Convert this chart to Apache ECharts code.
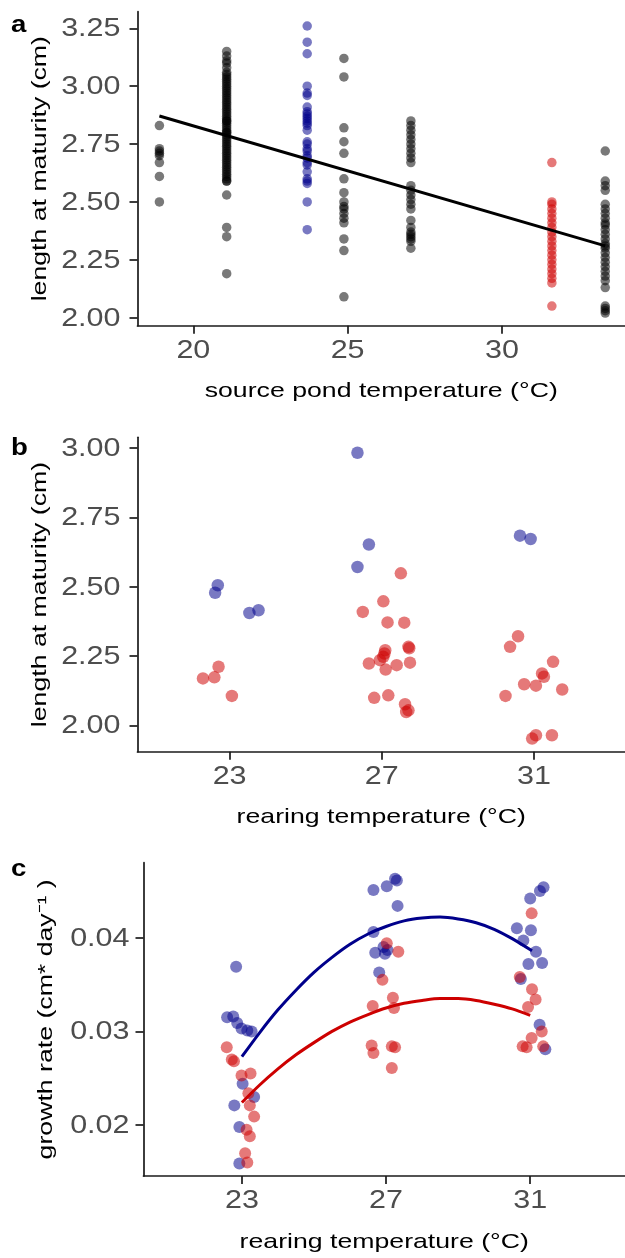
<!DOCTYPE html>
<html><head><meta charset="utf-8">
<script src="https://cdn.jsdelivr.net/npm/echarts@6/dist/echarts.min.js"></script>
<style>html,body{margin:0;padding:0;background:#fff}#c{width:625px;height:1258px}</style>
</head><body><div id="c"></div>
<script>
// ---------- Panel a : length at maturity vs source pond temperature ----------
const aTemps = [18.9, 21.08, 23.69, 24.88, 27.05, 31.62, 33.35];
const aGroup = ['grey', 'grey', 'blue', 'grey', 'grey', 'red', 'grey'];
const aCol1 = [2.83, 2.73, 2.72, 2.71, 2.70, 2.67, 2.61, 2.50];
const aCol2 = [3.15, 3.13, 3.11, 3.10, 3.08, 3.06, 3.05, 3.04, 3.03, 3.02, 3.01, 3.00, 2.99, 2.98, 2.97, 2.96, 2.95, 2.94, 2.93, 2.92, 2.91, 2.90, 2.89, 2.88, 2.87, 2.86, 2.85, 2.85, 2.84, 2.83, 2.82, 2.81, 2.80, 2.80, 2.79, 2.78, 2.77, 2.76, 2.75, 2.74, 2.73, 2.72, 2.71, 2.70, 2.69, 2.68, 2.67, 2.66, 2.65, 2.64, 2.63, 2.62, 2.61, 2.60, 2.59, 2.59, 2.53, 2.39, 2.35, 2.19];
const aCol3 = [3.26, 3.19, 3.14, 3.00, 2.97, 2.96, 2.91, 2.89, 2.88, 2.87, 2.86, 2.85, 2.84, 2.83, 2.81, 2.76, 2.75, 2.73, 2.72, 2.70, 2.69, 2.67, 2.66, 2.63, 2.60, 2.59, 2.58, 2.50, 2.38];
const aCol4 = [3.12, 3.04, 2.82, 2.76, 2.71, 2.60, 2.54, 2.50, 2.48, 2.47, 2.45, 2.43, 2.41, 2.34, 2.29, 2.09];
const aCol5 = [2.85, 2.83, 2.81, 2.79, 2.77, 2.75, 2.73, 2.71, 2.69, 2.67, 2.57, 2.55, 2.53, 2.51, 2.49, 2.47, 2.42, 2.39, 2.37, 2.36, 2.35, 2.34, 2.33, 2.30];
const aCol6 = [2.67, 2.50, 2.49, 2.47, 2.45, 2.43, 2.41, 2.39, 2.37, 2.35, 2.33, 2.31, 2.29, 2.27, 2.25, 2.23, 2.21, 2.19, 2.17, 2.15, 2.05];
const aCol7 = [2.72, 2.59, 2.57, 2.55, 2.49, 2.47, 2.45, 2.43, 2.41, 2.40, 2.38, 2.36, 2.34, 2.32, 2.31, 2.30, 2.28, 2.26, 2.24, 2.22, 2.20, 2.18, 2.16, 2.13, 2.05, 2.04, 2.03, 2.02];
const aCols = [aCol1, aCol2, aCol3, aCol4, aCol5, aCol6, aCol7];
const aFit = [[18.9, 2.871], [33.35, 2.310]];
const aXTicks = [20, 25, 30];
const aYTicks = [2.00, 2.25, 2.50, 2.75, 3.00, 3.25];

// ---------- Panel b : length at maturity vs rearing temperature ----------
const bBlue = [[22.69, 2.505], [22.62, 2.478], [23.52, 2.405], [23.76, 2.415], [26.36, 2.983], [26.66, 2.652], [26.36, 2.571], [30.63, 2.684], [30.91, 2.672]];
const bRed = [[22.71, 2.211], [22.30, 2.169], [22.60, 2.173], [23.06, 2.106],
  [27.50, 2.548], [27.04, 2.447], [26.50, 2.409], [27.15, 2.371], [27.59, 2.370], [27.09, 2.271], [27.07, 2.259], [27.70, 2.283], [27.72, 2.278], [27.04, 2.247], [26.66, 2.223], [26.95, 2.235], [27.39, 2.217], [27.74, 2.226], [27.10, 2.201], [26.80, 2.099], [27.17, 2.108], [27.61, 2.076], [27.64, 2.048], [27.70, 2.054],
  [30.58, 2.321], [30.37, 2.283], [30.25, 2.106], [30.74, 2.148], [31.05, 2.143], [31.21, 2.187], [31.26, 2.175], [31.50, 2.229], [31.74, 2.129], [30.95, 1.952], [31.05, 1.964], [31.47, 1.964]];
const bXTicks = [23, 27, 31];
const bYTicks = [2.00, 2.25, 2.50, 2.75, 3.00];

// ---------- Panel c : growth rate vs rearing temperature ----------
const cBlue = [[22.84, 0.0369], [22.59, 0.0315], [22.76, 0.0316], [22.87, 0.0309], [22.99, 0.0303], [23.15, 0.0301], [23.27, 0.0300], [23.02, 0.0244], [23.34, 0.0230], [22.79, 0.0221], [22.93, 0.0198], [22.93, 0.0159],
  [26.65, 0.0451], [27.02, 0.0455], [27.25, 0.0463], [27.30, 0.0461], [27.32, 0.0434], [26.65, 0.0406], [26.70, 0.0384], [26.93, 0.0390], [26.97, 0.0383], [27.04, 0.0387], [26.81, 0.0363],
  [31.37, 0.0454], [31.27, 0.0450], [31.00, 0.0442], [30.63, 0.0410], [31.02, 0.0408], [30.81, 0.0397], [31.16, 0.0385], [30.95, 0.0372], [31.33, 0.0373], [30.74, 0.0356], [31.26, 0.0307], [31.42, 0.0281]];
const cRed = [[22.58, 0.0283], [22.72, 0.0270], [22.78, 0.0268], [22.99, 0.0253], [23.24, 0.0255], [23.18, 0.0234], [23.22, 0.0221], [23.34, 0.0209], [23.13, 0.0195], [23.22, 0.0188], [23.09, 0.0170], [23.15, 0.0160],
  [27.02, 0.0394], [27.34, 0.0385], [26.90, 0.0355], [26.63, 0.0327], [27.19, 0.0336], [27.22, 0.0325], [26.60, 0.0285], [26.65, 0.0277], [27.16, 0.0284], [27.25, 0.0283], [27.16, 0.0261],
  [31.04, 0.0426], [30.71, 0.0358], [31.05, 0.0345], [31.15, 0.0334], [30.94, 0.0326], [31.32, 0.0300], [31.04, 0.0293], [30.79, 0.0284], [30.90, 0.0283], [31.36, 0.0284]];
const cBlueFit = [[23, 0.0273], [23.5, 0.0299], [24, 0.0323], [24.5, 0.0344], [25, 0.0363], [25.5, 0.0379], [26, 0.0393], [26.5, 0.0404], [27, 0.0412], [27.5, 0.0418], [28, 0.0421], [28.5, 0.0422], [29, 0.0420], [29.5, 0.0416], [30, 0.0409], [30.5, 0.0399], [31.05, 0.0386]];
const cRedFit = [[23, 0.0224], [23.5, 0.0243], [24, 0.0260], [24.5, 0.0275], [25, 0.0288], [25.5, 0.0300], [26, 0.0310], [26.5, 0.0318], [27, 0.0325], [27.5, 0.0330], [28, 0.0333], [28.5, 0.0335], [29, 0.0335], [29.5, 0.0333], [30, 0.0329], [30.5, 0.0324], [31, 0.0317]];
const cXTicks = [23, 27, 31];
const cYTicks = [0.02, 0.03, 0.04];

const labels = ['a', 'b', 'c'];
const xTitles = ['source pond temperature (°C)', 'rearing temperature (°C)', 'rearing temperature (°C)'];
const yTitles = ['length at maturity (cm)', 'length at maturity (cm)', 'growth rate (cm* day⁻¹ )'];

// ---------- styling ----------
const COL = { grey: 'rgba(0,0,0,0.66)', blue: 'rgba(0,0,139,0.66)', red: 'rgba(205,0,0,0.66)' };
const AX = '#1a1a1a';
const FONT = '"Liberation Sans", Arial, sans-serif';

const grids = [
  { left: 137.5, top: 11.7, right: 0, height: 314 },
  { left: 137.5, top: 437.3, right: 0, height: 314.4 },
  { left: 143.5, top: 862.7, right: 0, height: 313.3 }
];
const xr = [[18.19, 33.99], [20.58, 33.39], [20.27, 33.63]];
const yr = [[1.9654, 3.3217], [1.9048, 3.0386], [0.01456, 0.04801]];
const xt = [aXTicks, bXTicks, cXTicks];
const yt = [aYTicks, bYTicks, cYTicks];

function axis(gi, r, ticks) {
  return {
    type: 'value', gridIndex: gi, min: r[0], max: r[1], scale: true,
    axisLine: { show: true, onZero: false, lineStyle: { color: AX, width: 1.7 } },
    axisTick: { show: true, length: 8, customValues: ticks, lineStyle: { color: AX, width: 1.7 } },
    axisLabel: { show: false }, splitLine: { show: false }
  };
}

const series = [];
aCols.forEach((vals, i) => {
  series.push({ type: 'scatter', xAxisIndex: 0, yAxisIndex: 0, symbolSize: 9.5,
    itemStyle: { color: COL[aGroup[i]] }, data: vals.map(v => [aTemps[i], v]) });
});
series.push({ type: 'line', xAxisIndex: 0, yAxisIndex: 0, data: aFit, showSymbol: false,
  lineStyle: { color: '#000', width: 3 }, z: 5 });
series.push({ type: 'scatter', xAxisIndex: 1, yAxisIndex: 1, symbolSize: 12.5, itemStyle: { color: COL.blue }, data: bBlue });
series.push({ type: 'scatter', xAxisIndex: 1, yAxisIndex: 1, symbolSize: 12.5, itemStyle: { color: COL.red }, data: bRed });
series.push({ type: 'scatter', xAxisIndex: 2, yAxisIndex: 2, symbolSize: 12, itemStyle: { color: COL.blue }, data: cBlue });
series.push({ type: 'scatter', xAxisIndex: 2, yAxisIndex: 2, symbolSize: 12, itemStyle: { color: COL.red }, data: cRed });
series.push({ type: 'line', xAxisIndex: 2, yAxisIndex: 2, data: cBlueFit, smooth: 0.3, showSymbol: false,
  lineStyle: { color: '#00008B', width: 3 }, z: 5 });
series.push({ type: 'line', xAxisIndex: 2, yAxisIndex: 2, data: cRedFit, smooth: 0.3, showSymbol: false,
  lineStyle: { color: '#CD0000', width: 3 }, z: 5 });

const chart = echarts.init(document.getElementById('c'), null, { renderer: 'canvas' });
chart.setOption({
  animation: false,
  backgroundColor: '#fff',
  grid: grids,
  xAxis: [0, 1, 2].map(i => axis(i, xr[i], xt[i])),
  yAxis: [0, 1, 2].map(i => axis(i, yr[i], yt[i])),
  series
});

// ---------- text (wide glyphs, as in the reference) ----------
const SX = 1.22;
const gfx = [];
function txt(x, y, text, o) {
  gfx.push({ type: 'text', x, y, scaleX: o.sx || SX, rotation: o.rot || 0, silent: true, z: 100,
    style: { text, fill: o.fill || '#4d4d4d', font: (o.bold ? 'bold ' : '') + o.size + 'px ' + FONT,
      align: o.align || 'center', verticalAlign: o.va || 'middle' } });
}
const labelBase = [33, 456, 877];
const yLabOff = [17, 17, 14];
const yTitleX = [40, 40, 46];
for (let i = 0; i < 3; i++) {
  const axX = chart.convertToPixel({ xAxisIndex: i }, xr[i][0]);
  const axY = chart.convertToPixel({ yAxisIndex: i }, yr[i][0]);
  const topY = chart.convertToPixel({ yAxisIndex: i }, yr[i][1]);
  const rightX = chart.convertToPixel({ xAxisIndex: i }, xr[i][1]);
  yt[i].forEach(v => {
    const py = chart.convertToPixel({ yAxisIndex: i }, v);
    txt(axX - yLabOff[i], py + 1, v.toFixed(2), { size: 25, align: 'right' });
  });
  xt[i].forEach(v => {
    const px = chart.convertToPixel({ xAxisIndex: i }, v);
    txt(px, axY + 25, String(v), { size: 25 });
  });
  txt((axX + rightX) / 2, axY + 66, xTitles[i], { size: 21, fill: '#000', sx: 1.27 });
  txt(yTitleX[i], (axY + topY) / 2, yTitles[i], { size: 21, fill: '#000', sx: 1.27, rot: Math.PI / 2 });
  txt(11, labelBase[i] + 4, labels[i], { size: 24, bold: true, fill: '#000', align: 'left', va: 'bottom', sx: 1.15 });
}
chart.setOption({ graphic: gfx });
</script></body></html>
